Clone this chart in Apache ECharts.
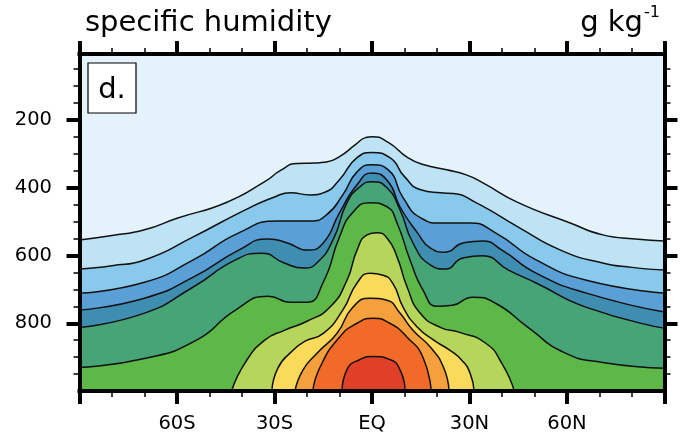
<!DOCTYPE html>
<html><head><meta charset="utf-8">
<script src="https://cdn.jsdelivr.net/npm/echarts@6/dist/echarts.min.js"></script>
<style>html,body{margin:0;padding:0;background:#fff}#c{width:692px;height:434px}</style>
</head><body><div id="c"></div>
<script>
// tick labels
const latTicks = [-60, -30, 0, 30, 60];
const latLabels = ['60S', '30S', 'EQ', '30N', '60N'];
const pTicks = [200, 400, 600, 800];
const pMinorTicks = [50,100,150,250,300,350,450,500,550,650,700,750,850,900,950];

// contour lines of specific humidity: [latitude, pressure hPa], lowest level first
const contour1 = [[-90,554],[-80,541],[-70,524],[-60,490],[-45,444],[-33,382],[-28,348],[-23,328],[-18,327],[-14,324],[-10,308],[-5,272],[-2,252],[0,249],[5,266],[11,311],[16,332],[23,347],[29,362],[34,385],[45,444],[61,504],[71,539],[81,551],[90,557]];
const contour2 = [[-90,640],[-80,630],[-70,613],[-55,545],[-39,465],[-30,427],[-25,415],[-19,421],[-14.5,413],[-10,376],[-4.6,311],[0,296],[5.5,311],[10,367],[15,406],[21,415],[25,417],[32,444],[45,516],[58,584],[71,622],[80,635],[90,643]];
const contour3 = [[-90,711],[-70,679],[-55,613],[-41,533],[-29,498],[-19,498],[-14,480],[-9,421],[-4.6,353],[0,332],[5,347],[9.6,430],[15,489],[21,504],[30,504],[38,533],[50.5,613],[66,673],[90,711]];
const contour4 = [[-90,761],[-70,726],[-55,664],[-41,584],[-32,551],[-26,563],[-20,584],[-15,563],[-10,474],[-4.6,391],[0,356],[5,382],[8.6,456],[14,533],[18,578],[22.5,590],[28,563],[34,557],[40,584],[50.5,652],[66,711],[90,767]];
const contour5 = [[-90,812],[-70,770],[-55,693],[-42,613],[-34,593],[-27,622],[-21,637],[-17,622],[-12,554],[-7.7,444],[-3.7,397],[0,382],[4.6,400],[8.6,465],[12.6,563],[18,628],[22.5,640],[28,607],[34,601],[42,643],[50.5,681],[66,753],[90,815]];
const contour6 = [[-90,930],[-70,904],[-54,850],[-42,761],[-32,720],[-25,738],[-20,738],[-15,679],[-10,545],[-6,474],[-0.6,444],[4.6,456],[7.7,504],[11.7,613],[15.7,702],[20,750],[24.7,747],[31,723],[38,741],[48,812],[59,886],[71,916],[90,933]];
const contour7 = [[-43.2,1000],[-39,916],[-33,850],[-27,821],[-20,794],[-13,753],[-7.7,673],[-4.6,584],[-1.5,539],[1.5,533],[4.6,548],[7.7,604],[10.8,693],[14.8,770],[21,812],[27,827],[35,859],[40,919],[43.8,1000]];
const contour8 = [[-30.8,1000],[-29,933],[-25,886],[-20.6,853],[-15,830],[-9,761],[-4.6,681],[-0.6,652],[3.4,658],[6.5,684],[9.6,753],[14,812],[19,850],[24,880],[27.7,910],[30.2,948],[31.4,1000]];
const contour9 = [[-23.7,1000],[-21.3,939],[-17,889],[-10.8,830],[-5.9,753],[-0.6,726],[4.6,732],[8.6,770],[12.6,821],[18,871],[22,930],[23.7,1000]];
const contour10 = [[-18.2,1000],[-16,930],[-10,841],[-4.6,800],[0.3,785],[5.5,800],[10.8,841],[15.7,901],[18.2,1000]];
const contour11 = [[-9.2,1000],[-7.7,937],[-3.7,907],[0.3,898],[5.5,907],[8.6,937],[10.2,1000]];

const contours = [contour1, contour2, contour3, contour4, contour5, contour6, contour7, contour8, contour9, contour10, contour11];
const fillColors = ['#bde3f5','#89c9ec','#5a9fd5','#408db2','#46a476','#5db848','#b5d55b','#f9da5a','#f59f3d','#f26a27','#e04028'];

const FONT = 'DejaVu Sans';
const P_MIN = 5, P_MAX = 1000;

const chart = echarts.init(document.getElementById('c'), null, {renderer: 'canvas'});

const frameLine = {show: true, onZero: false, lineStyle: {color: '#000', width: 4, cap: 'square'}};
const majorTick = {show: true, inside: false, length: 13, lineStyle: {color: '#000', width: 4}};
const minorTickStyle = {color: '#000', width: 1.5};
const labelStyle = {fontFamily: FONT, fontSize: 19.5, color: '#000'};

function xAx(pos, withLabels) {
  return {
    type: 'value', position: pos, min: -90, max: 90, interval: 30, z: 10,
    axisLine: frameLine, axisTick: majorTick,
    minorTick: {show: true, splitNumber: 3, length: 6, lineStyle: minorTickStyle},
    splitLine: {show: false}, minorSplitLine: {show: false},
    axisLabel: withLabels ? Object.assign({
      customValues: latTicks, margin: 23, lineHeight: 19.5,
      formatter: v => { const i = latTicks.indexOf(v); return i >= 0 ? latLabels[i] : ''; }
    }, labelStyle) : {show: false}
  };
}
function yAx(pos, major, withLabels) {
  return {
    type: 'value', position: pos, inverse: true, min: P_MIN, max: P_MAX, z: 10,
    axisLine: major ? frameLine : {show: false, onZero: false},
    axisTick: major ? Object.assign({customValues: pTicks}, majorTick)
                    : {show: true, inside: false, customValues: pMinorTicks, length: 6, lineStyle: minorTickStyle},
    splitLine: {show: false},
    axisLabel: withLabels ? Object.assign({customValues: pTicks, margin: 27.5}, labelStyle) : {show: false}
  };
}

const series = contours.map((c, i) => ({
  type: 'line', xAxisIndex: 0, yAxisIndex: 0, data: c,
  smooth: 0.55, symbol: 'none', silent: true,
  lineStyle: {color: '#111', width: 1.5},
  areaStyle: {color: fillColors[i], opacity: 1, origin: 'end'},
  z: 2
}));

chart.setOption({
  animation: false,
  backgroundColor: '#fff',
  grid: {left: 79.5, right: 27.5, top: 54, bottom: 43, show: true, backgroundColor: '#e4f3fb', borderWidth: 0},
  xAxis: [xAx('bottom', true), xAx('top', false)],
  yAxis: [yAx('left', true, true), yAx('left', false, false), yAx('right', true, false), yAx('right', false, false)],
  series: series,
  graphic: [
    {type: 'text', x: 85, y: 23, z: 20,
     style: {text: 'specific humidity', fontFamily: FONT, fontSize: 29, fill: '#000', textAlign: 'left', verticalAlign: 'middle'}},
    {type: 'text', x: 643, y: 23, z: 20,
     style: {text: 'g kg', fontFamily: FONT, fontSize: 29, fill: '#000', textAlign: 'right', verticalAlign: 'middle'}},
    {type: 'text', x: 644, y: 13, z: 20,
     style: {text: '-1', fontFamily: FONT, fontSize: 16, fill: '#000', textAlign: 'left', verticalAlign: 'middle'}},
    {type: 'rect', shape: {x: 88, y: 63, width: 48, height: 50}, z: 20,
     style: {fill: '#fff', stroke: '#000', lineWidth: 1.2}},
    {type: 'text', x: 112, y: 90, z: 21,
     style: {text: 'd.', fontFamily: FONT, fontSize: 29, fill: '#000', textAlign: 'center', verticalAlign: 'middle'}}
  ]
});
</script>
</body></html>
